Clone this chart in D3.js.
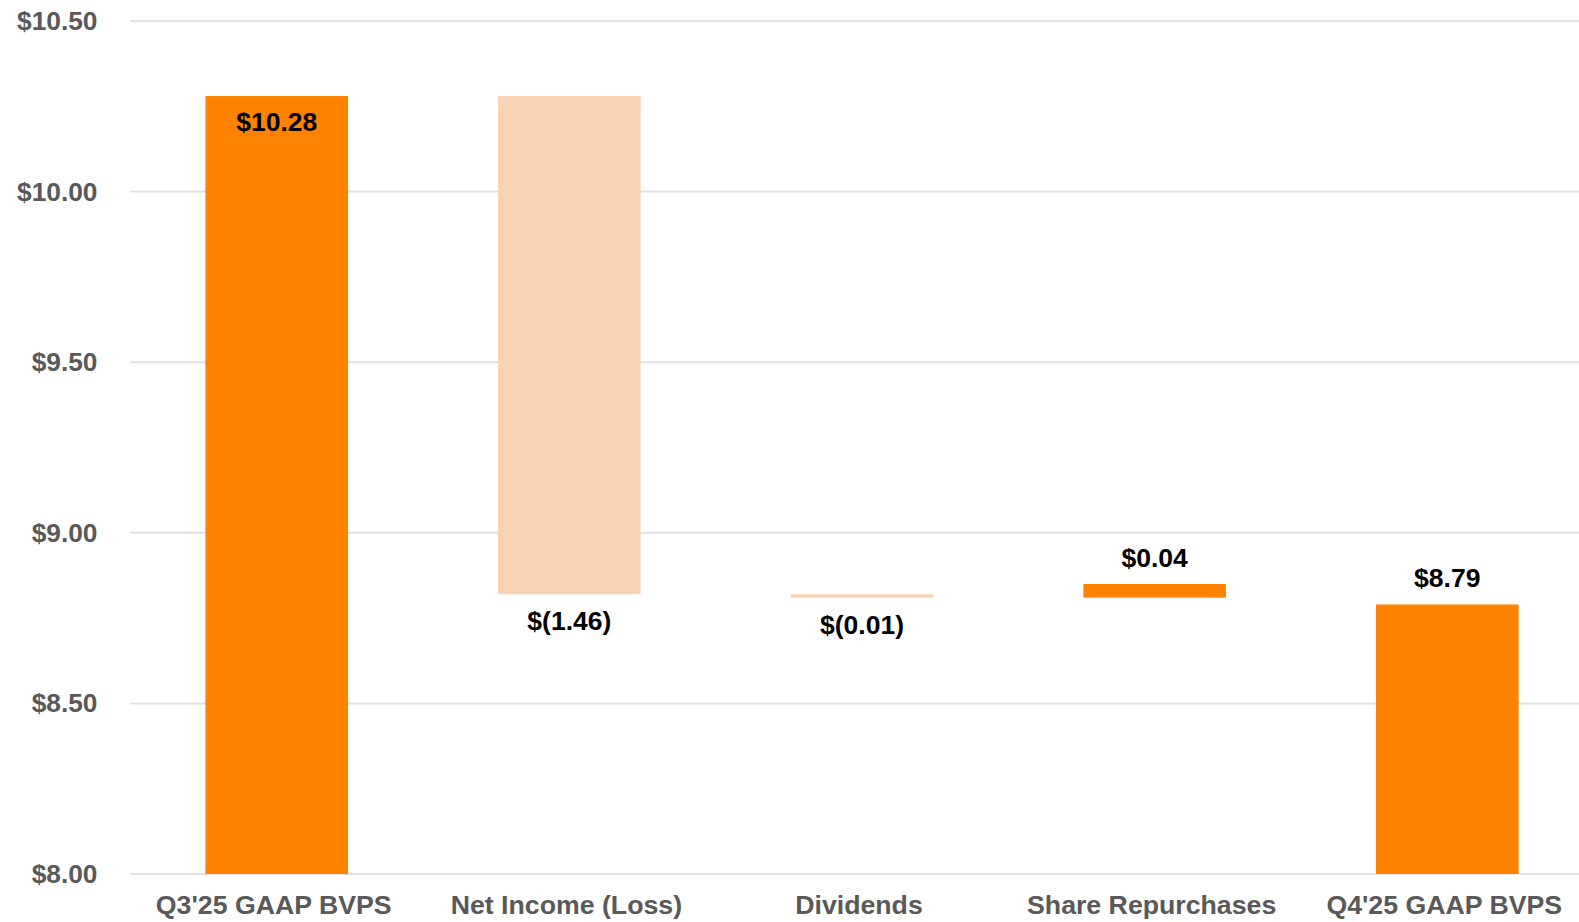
<!DOCTYPE html>
<html>
<head>
<meta charset="utf-8">
<script src="https://cdn.jsdelivr.net/npm/d3@7"></script>
<style>
  html, body { margin: 0; padding: 0; background: #fff; }
  svg { display: block; font-family: "Liberation Sans", Arial, sans-serif; }
</style>
</head>
<body>
<svg id="chart" width="1579" height="922"></svg>
<script>
// Book value per share bridge, Q3'25 to Q4'25
const categories = ["Q3'25 GAAP BVPS", "Net Income (Loss)", "Dividends", "Share Repurchases", "Q4'25 GAAP BVPS"];
const kinds = ["total", "delta", "delta", "delta", "total"];
const values = [10.28, -1.46, -0.01, 0.04, 8.79];
const valueLabels = ["$10.28", "$(1.46)", "$(0.01)", "$0.04", "$8.79"];
const yTicks = [8.0, 8.5, 9.0, 9.5, 10.0, 10.5];
const yDomain = [8.0, 10.5];

const ORANGE = "#FF8200";
const PEACH = "#FAD3B4";

// Build floating segments from the running total
let running = 0;
const bars = categories.map((c, i) => {
  let lo, hi;
  if (kinds[i] === "total") {
    lo = yDomain[0]; hi = values[i]; running = values[i];
  } else {
    const start = running, end = running + values[i];
    lo = Math.min(start, end); hi = Math.max(start, end); running = end;
  }
  return { cat: c, kind: kinds[i], value: values[i], label: valueLabels[i], lo, hi };
});

(function draw() {
  const svg = d3.select("#chart");
  const plotLeft = 130, plotRight = 1594, plotTop = 21, plotBottom = 874;

  const x = d3.scaleBand().domain(categories).range([plotLeft, plotRight]).paddingInner(0.5127).paddingOuter(0.2577);
  const y = d3.scaleLinear().domain(yDomain).range([plotBottom, plotTop]);

  // Gridlines
  svg.append("g")
    .selectAll("line").data(yTicks).join("line")
    .attr("x1", plotLeft).attr("x2", 1579)
    .attr("y1", d => y(d)).attr("y2", d => y(d))
    .attr("stroke", "#E2E2E2").attr("stroke-width", 2);

  // Y axis labels
  const yAxis = d3.axisLeft(y).tickValues(yTicks).tickSize(0).tickPadding(0)
    .tickFormat(d => "$" + d3.format(".2f")(d));
  const yg = svg.append("g").attr("transform", "translate(97.5,0)").call(yAxis);
  yg.select(".domain").remove();
  yg.selectAll("text")
    .attr("fill", "#595959").attr("font-size", 26.3).attr("font-weight", "bold")
    .attr("font-family", "'Liberation Sans', Arial, sans-serif");

  // X axis labels, set slightly left of the bar centres
  const xAxis = d3.axisBottom(x).tickSize(0).tickPadding(0);
  const xg = svg.append("g").attr("transform", "translate(-3,913.5)").call(xAxis);
  xg.select(".domain").remove();
  xg.selectAll("text")
    .attr("y", 0).attr("dy", 0)
    .attr("fill", "#595959").attr("font-size", 26.7).attr("font-weight", "bold")
    .attr("font-family", "'Liberation Sans', Arial, sans-serif");

  // Bars
  svg.append("g")
    .selectAll("rect").data(bars).join("rect")
    .attr("x", d => x(d.cat))
    .attr("width", x.bandwidth())
    .attr("y", d => y(d.hi))
    .attr("height", d => Math.max(3, y(d.lo) - y(d.hi)))
    .attr("fill", d => (d.kind === "delta" && d.value < 0) ? PEACH : ORANGE);

  // Value labels
  svg.append("g")
    .selectAll("text").data(bars).join("text")
    .attr("x", d => x(d.cat) + x.bandwidth() / 2)
    .attr("y", (d, i) => {
      if (i === 0) return y(d.hi) + 35;
      if (d.value < 0) return Math.max(y(d.lo), y(d.hi) + 3) + 36;
      return y(d.hi) - 17;
    })
    .attr("text-anchor", "middle")
    .attr("font-size", 26.5).attr("font-weight", "bold").attr("fill", "#000")
    .text(d => d.label);
})();
</script>
</body>
</html>
